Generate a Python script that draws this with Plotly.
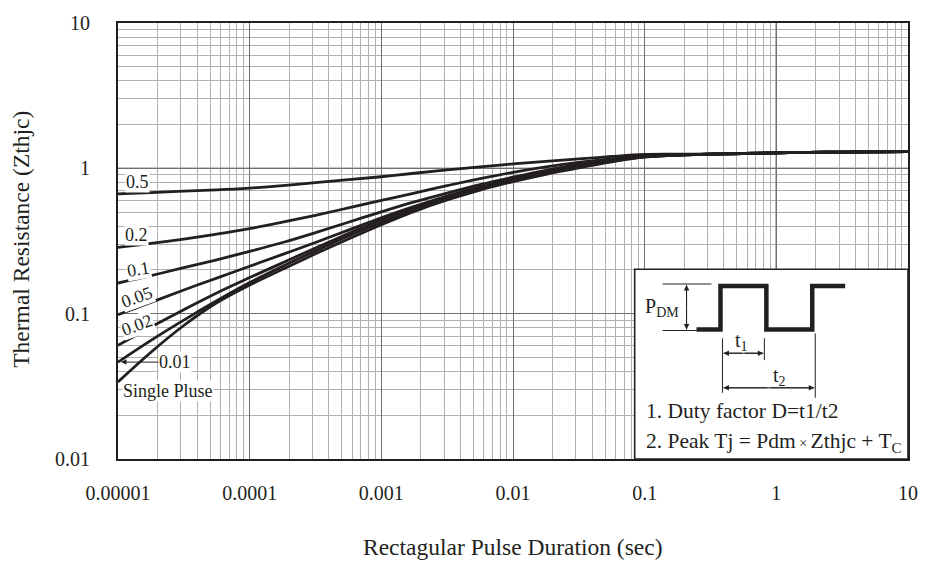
import plotly.graph_objects as go

# ---- data ----
pulse_t = [1e-5, 1.78e-5, 3.16e-5, 5.62e-5, 1e-4, 1.78e-4, 3.16e-4, 5.62e-4,
           1e-3, 1.78e-3, 3.16e-3, 5.62e-3, 1e-2, 1.78e-2, 3.16e-2, 5.62e-2,
           0.1, 0.178, 0.316, 0.562, 1, 1.78, 3.16, 5.62, 10]
z_d05 = [0.668, 0.681, 0.698, 0.711, 0.731, 0.760, 0.797, 0.835,
         0.875, 0.925, 0.977, 1.024, 1.073, 1.116, 1.160, 1.207,
         1.245, 1.250, 1.2555, 1.2647, 1.2767, 1.2868, 1.2948, 1.3010, 1.3050]
z_d02 = [0.2857, 0.3041, 0.3263, 0.3529, 0.3846, 0.4259, 0.4752, 0.5344,
         0.6011, 0.6759, 0.7603, 0.8484, 0.9393, 1.0238, 1.0985, 1.1604,
         1.2162, 1.2355, 1.2511, 1.2647, 1.2767, 1.2868, 1.2948, 1.3010, 1.3050]
z_d01 = [0.1625, 0.1827, 0.2072, 0.2348, 0.2683, 0.3088, 0.3612, 0.4259,
         0.5019, 0.5872, 0.6759, 0.7721, 0.8686, 0.9692, 1.0646, 1.1423,
         1.2067, 1.2355, 1.2511, 1.2647, 1.2767, 1.2868, 1.2948, 1.3010, 1.3050]
z_d005 = [0.0984, 0.1197, 0.1456, 0.1758, 0.2121, 0.2559, 0.3088, 0.3757,
          0.4569, 0.5471, 0.6452, 0.7428, 0.8418, 0.9393, 1.0318, 1.1247,
          1.2067, 1.2355, 1.2511, 1.2647, 1.2767, 1.2868, 1.2948, 1.3010, 1.3050]
z_d002 = [0.0606, 0.0810, 0.1065, 0.1389, 0.1771, 0.2240, 0.2834, 0.3556,
          0.4428, 0.5386, 0.6399, 0.7370, 0.8352, 0.9319, 1.0318, 1.1247,
          1.1973, 1.2355, 1.2511, 1.2647, 1.2767, 1.2868, 1.2948, 1.3010, 1.3050]
z_d001 = [0.0464, 0.0655, 0.0903, 0.1226, 0.1637, 0.2121, 0.2704, 0.3420,
          0.4259, 0.5220, 0.6250, 0.7254, 0.8222, 0.9247, 1.0238, 1.1158,
          1.1973, 1.2355, 1.2511, 1.2647, 1.2767, 1.2868, 1.2948, 1.3010, 1.3050]
z_single = [0.0339, 0.0543, 0.0829, 0.1188, 0.1575, 0.2024, 0.2580, 0.3263,
            0.4096, 0.5059, 0.6058, 0.7084, 0.8094, 0.9103, 1.0079, 1.1071,
            1.1973, 1.2355, 1.2511, 1.2647, 1.2767, 1.2868, 1.2948, 1.3010, 1.3050]
series = [z_d05, z_d02, z_d01, z_d005, z_d002, z_d001, z_single]

x_tickvals = [1e-5, 1e-4, 1e-3, 1e-2, 1e-1, 1, 10]
x_ticktext = ["0.00001", "0.0001", "0.001", "0.01", "0.1", "1", "10"]
y_tickvals = [0.01, 0.1, 1, 10]
y_ticktext = ["0.01", "0.1", "1", "10"]

W, H = 930, 563
L, R, T, B = 118, 20, 18, 104
PW, PH = W - L - R, H - T - B
FONT = "Liberation Serif"
INK = "#231f20"


def px(x):
    return (x - L) / PW


def py(y):
    return (H - B - y) / PH


fig = go.Figure()
for s in series:
    fig.add_trace(go.Scatter(x=pulse_t, y=s, mode="lines",
                             line=dict(color=INK, width=2.8, shape="spline", smoothing=1.0),
                             hoverinfo="skip", showlegend=False))

fig.update_layout(
    width=W, height=H, margin=dict(l=L, r=R, t=T, b=B),
    paper_bgcolor="white", plot_bgcolor="white",
    font=dict(family=FONT, color=INK, size=20),
    showlegend=False,
)
fig.update_xaxes(type="log", range=[-5, 1], tickvals=x_tickvals, ticktext=x_ticktext,
                 showgrid=True, gridcolor="#707070", gridwidth=1,
                 minor=dict(showgrid=True, gridcolor="#b0b0b0", gridwidth=1, dtick="D1"),
                 ticks="outside", ticklen=15, tickcolor="rgba(0,0,0,0)",
                 showline=True, linecolor=INK, linewidth=2, mirror=True, zeroline=False,
                 tickfont=dict(family=FONT, size=20, color=INK))
fig.update_yaxes(type="log", range=[-2, 1], tickvals=y_tickvals, ticktext=y_ticktext,
                 showgrid=True, gridcolor="#707070", gridwidth=1,
                 minor=dict(showgrid=True, gridcolor="#b0b0b0", gridwidth=1, dtick="D1"),
                 ticks="outside", ticklen=22, tickcolor="rgba(0,0,0,0)",
                 showline=True, linecolor=INK, linewidth=2, mirror=True, zeroline=False,
                 tickfont=dict(family=FONT, size=20, color=INK))

shapes = []
# black reference lines at 1
shapes.append(dict(type="line", xref="paper", yref="y domain", x0=0, x1=1, y0=2/3, y1=2/3,
                   line=dict(color=INK, width=1.3), layer="below"))
shapes.append(dict(type="line", xref="x domain", yref="paper", x0=5/6, x1=5/6, y0=0, y1=1,
                   line=dict(color=INK, width=1.3), layer="below"))

# inset box
shapes.append(dict(type="rect", xref="paper", yref="paper", x0=px(636), x1=px(910), y0=py(459), y1=py(267),
                   fillcolor="white", line=dict(color=INK, width=1.6), layer="above"))
# pulse waveform
wave = [(698, 328), (722, 328), (722, 284), (768, 284), (768, 328), (814, 328), (814, 284), (847, 284)]
path = "M " + " L ".join(f"{px(a):.5f},{py(b):.5f}" for a, b in wave)
shapes.append(dict(type="path", xref="paper", yref="paper", path=path,
                   line=dict(color=INK, width=4.5), layer="above"))


def seg(x0, y0, x1, y1, w=1):
    shapes.append(dict(type="line", xref="paper", yref="paper", x0=px(x0), y0=py(y0), x1=px(x1), y1=py(y1),
                       line=dict(color=INK, width=w), layer="above"))


seg(664, 282, 713, 282)
seg(664, 329, 700, 329)
seg(724, 337, 724, 392)
seg(766, 337, 766, 359)
seg(817, 332, 817, 397)

annotations = []


def arrow(xh, yh, xt, yt):
    annotations.append(dict(xref="paper", yref="paper", x=px(xh), y=py(yh), ax=xt - xh, ay=yt - yh,
                            text="", showarrow=True, arrowhead=2, arrowsize=1.1, arrowwidth=1,
                            arrowcolor=INK, standoff=0, startstandoff=0))


def dbl(x0, y0, x1, y1):
    seg(x0, y0, x1, y1)
    mx, my = (x0 + x1) / 2, (y0 + y1) / 2
    arrow(x0, y0, mx, my)
    arrow(x1, y1, mx, my)


dbl(688, 283, 688, 328)
dbl(725, 352, 765, 352)
dbl(725, 387, 816, 387)


def txt(x, y, s, size=19, anchor="center", bg=None, angle=0):
    d = dict(xref="paper", yref="paper", x=px(x), y=py(y), text=s, showarrow=False,
             xanchor=anchor, yanchor="middle", font=dict(family=FONT, size=size, color=INK), textangle=angle)
    if bg:
        d.update(bgcolor=bg, borderpad=0)
    annotations.append(d)


txt(644, 306, "P<sub>DM</sub>", size=20, anchor="left")
txt(743, 340, "t<sub>1</sub>", size=20)
txt(781, 376, "t<sub>2</sub>", size=20)
txt(645, 410, "1. Duty factor D=t1/t2", size=21.5, anchor="left")
txt(645, 442, "2. Peak Tj = Pdm<span style='font-size:14px'> × </span>Zthjc + T<sub>C</sub>", size=21.5, anchor="left")

# curve labels
txt(138, 179, "0.5", size=18, bg="white")
txt(137, 232, "0.2", size=18, bg="white")
txt(139, 267, "0.1", size=18, bg="white", angle=-10)
txt(137, 295, "0.05", size=18, bg="white", angle=-20)
txt(137, 323, "0.02", size=18, bg="white", angle=-20)
txt(168, 390, "Single Pluse", size=18, bg="white")
annotations.append(dict(xref="paper", yref="paper", x=px(121), y=py(361), ax=54, ay=0, text="0.01",
                        showarrow=True, arrowhead=2, arrowsize=1.1, arrowwidth=1, arrowcolor=INK,
                        bgcolor="white", borderpad=0, font=dict(family=FONT, size=18, color=INK)))

# axis titles
txt(20, 237, "Thermal Resistance (Zthjc)", size=23.5, angle=-90)
txt(514, 548, "Rectagular Pulse Duration (sec)", size=23.5)

fig.update_layout(shapes=shapes, annotations=annotations)
fig.write_html("out.html")
